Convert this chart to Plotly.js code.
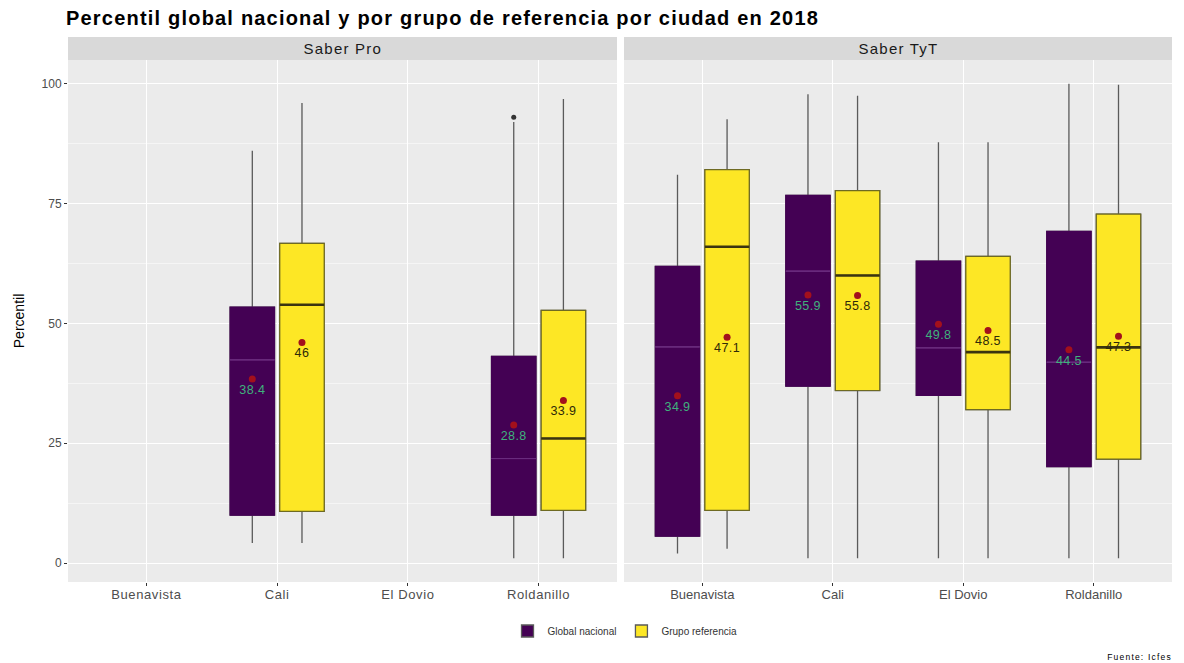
<!DOCTYPE html>
<html>
<head>
<meta charset="utf-8">
<script src="https://cdn.plot.ly/plotly-3.0.1.min.js"></script>
<style>
html,body{margin:0;padding:0;background:#fff;}
#chart{width:1184px;height:663px;}
#chart .gtitle{letter-spacing:1.2px;}
#chart .annotation-text{letter-spacing:1.2px;}
#chart .xtick text{letter-spacing:0.6px;}
#chart .textpoint text{letter-spacing:0.4px;}
</style>
</head>
<body>
<div id="chart"></div>
<script>
// ---------- data ----------
const cities = ['Buenavista', 'Cali', 'El Dovio', 'Roldanillo'];
const panels = ['Saber Pro', 'Saber TyT'];
const groups = ['Global nacional', 'Grupo referencia'];

// Saber Pro – Global nacional
const proGlobalQ1   = [null, 10.0, null, 10.0];
const proGlobalMed  = [null, 42.4, null, 21.8];
const proGlobalQ3   = [null, 53.4, null, 43.1];
const proGlobalLo   = [null, 4.2, null, 1.0];
const proGlobalHi   = [null, 86.0, null, 92.0];
const proGlobalMean = [null, 38.4, null, 28.8];
const proGlobalOut  = [null, null, null, 93.0];
// Saber Pro – Grupo referencia
const proRefQ1   = [null, 10.8, null, 11.0];
const proRefMed  = [null, 53.9, null, 26.0];
const proRefQ3   = [null, 66.7, null, 52.7];
const proRefLo   = [null, 4.2, null, 1.0];
const proRefHi   = [null, 96.0, null, 96.8];
const proRefMean = [null, 46.0, null, 33.9];
const proRefOut  = [null, null, null, null];
// Saber TyT – Global nacional
const tytGlobalQ1   = [5.6, 36.9, 35.0, 20.1];
const tytGlobalMed  = [45.1, 60.9, 44.9, 41.9];
const tytGlobalQ3   = [61.9, 76.7, 63.0, 69.2];
const tytGlobalLo   = [2.0, 1.0, 1.0, 1.0];
const tytGlobalHi   = [81.0, 97.8, 87.8, 100.0];
const tytGlobalMean = [34.9, 55.9, 49.8, 44.5];
const tytGlobalOut  = [null, null, null, null];
// Saber TyT – Grupo referencia
const tytRefQ1   = [11.0, 36.0, 32.0, 21.7];
const tytRefMed  = [66.0, 60.0, 44.0, 45.0];
const tytRefQ3   = [82.1, 77.7, 64.0, 72.8];
const tytRefLo   = [3.0, 1.0, 1.0, 1.0];
const tytRefHi   = [92.6, 97.5, 87.8, 99.8];
const tytRefMean = [47.1, 55.8, 48.5, 47.3];
const tytRefOut  = [null, null, null, null];

const yTicks = [0, 25, 50, 75, 100];

// ---------- styles ----------
const FONT = 'Liberation Sans, Arial, sans-serif';
const fills = ['#440154', '#FDE725'];
const outline = ['#440154', '#6e6a22'];
const medColor = ['#6a2c7e', '#3a3410'];
const medWidth = [1, 2.6];
const labelColor = ['#3fb27c', '#2f2a08'];
const whiskerColor = '#5a5a5a';
const meanColor = '#a3101c';
const dodge = 0.19, boxW = 0.34;

const series = [
  [ // Saber Pro
    {q1: proGlobalQ1, med: proGlobalMed, q3: proGlobalQ3, lo: proGlobalLo, hi: proGlobalHi, mean: proGlobalMean, out: proGlobalOut},
    {q1: proRefQ1, med: proRefMed, q3: proRefQ3, lo: proRefLo, hi: proRefHi, mean: proRefMean, out: proRefOut}
  ],
  [ // Saber TyT
    {q1: tytGlobalQ1, med: tytGlobalMed, q3: tytGlobalQ3, lo: tytGlobalLo, hi: tytGlobalHi, mean: tytGlobalMean, out: tytGlobalOut},
    {q1: tytRefQ1, med: tytRefMed, q3: tytRefQ3, lo: tytRefLo, hi: tytRefHi, mean: tytRefMean, out: tytRefOut}
  ]
];

const traces = [];
series.forEach((panel, p) => {
  const xa = p === 0 ? 'x' : 'x2';
  const ya = p === 0 ? 'y' : 'y2';
  panel.forEach((s, g) => {
    const idx = cities.map((c, i) => i).filter(i => s.q1[i] !== null);
    const xs = idx.map(i => i + (g === 0 ? -dodge : dodge));
    const pick = arr => idx.map(i => arr[i]);
    // whiskers (full box, grey line)
    traces.push({
      type: 'box', xaxis: xa, yaxis: ya, x: xs,
      q1: pick(s.q1), median: pick(s.med), q3: pick(s.q3),
      lowerfence: pick(s.lo), upperfence: pick(s.hi),
      width: boxW, whiskerwidth: 0, fillcolor: fills[g],
      line: {color: whiskerColor, width: 1.3},
      name: groups[g], legendgroup: groups[g], showlegend: p === 0,
      hoverinfo: 'skip'
    });
    // box body outline
    traces.push({
      type: 'box', xaxis: xa, yaxis: ya, x: xs,
      q1: pick(s.q1), median: pick(s.med), q3: pick(s.q3),
      lowerfence: pick(s.q1), upperfence: pick(s.q3),
      width: boxW, whiskerwidth: 0, fillcolor: fills[g],
      line: {color: outline[g], width: 1.2},
      name: groups[g], legendgroup: groups[g], showlegend: false,
      hoverinfo: 'skip'
    });
    // median line
    traces.push({
      type: 'box', xaxis: xa, yaxis: ya, x: xs,
      q1: pick(s.med), median: pick(s.med), q3: pick(s.med),
      lowerfence: pick(s.med), upperfence: pick(s.med),
      width: boxW, whiskerwidth: 0, fillcolor: 'rgba(0,0,0,0)',
      line: {color: medColor[g], width: medWidth[g]},
      name: groups[g], legendgroup: groups[g], showlegend: false,
      hoverinfo: 'skip'
    });
    // outliers
    const oi = cities.map((c, i) => i).filter(i => s.out[i] !== null);
    if (oi.length) {
      traces.push({
        type: 'scatter', mode: 'markers', xaxis: xa, yaxis: ya,
        x: oi.map(i => i + (g === 0 ? -dodge : dodge)), y: oi.map(i => s.out[i]),
        marker: {color: '#333333', size: 5},
        showlegend: false, hoverinfo: 'skip'
      });
    }
    // mean points with labels
    traces.push({
      type: 'scatter', mode: 'markers+text', xaxis: xa, yaxis: ya,
      x: xs, y: pick(s.mean), text: pick(s.mean).map(v => String(v)),
      textposition: 'bottom center',
      textfont: {family: FONT, size: 12.5, color: labelColor[g]},
      marker: {color: meanColor, size: 7},
      showlegend: false, hoverinfo: 'skip', cliponaxis: false
    });
  });
});

// ---------- layout ----------
const yRange = [-3.95, 104.95];
const stripTop = 1, stripBottom = 1 - 23 / 545;
const xDom = [[0, 549 / 1104], [556 / 1104, 1]];
const xAxisBase = {
  type: 'linear', range: [-0.6, 3.6], tickvals: [0, 1, 2, 3], ticktext: cities,
  showgrid: true, gridcolor: '#ffffff', gridwidth: 1.1, zeroline: false,
  ticks: 'outside', ticklen: 3, tickcolor: '#333333', tickwidth: 1,
  ticklabelstandoff: -3,
  tickfont: {family: FONT, size: 13, color: '#4d4d4d'},
  showline: false, fixedrange: true
};
const yAxisBase = {
  range: yRange, domain: [0, stripBottom], tickvals: yTicks,
  showgrid: true, gridcolor: '#ffffff', gridwidth: 1.1, zeroline: false,
  minor: {tick0: 0, dtick: 12.5, showgrid: true, gridcolor: '#ffffff', gridwidth: 0.5, ticks: ''},
  tickfont: {family: FONT, size: 12, color: '#4d4d4d'},
  showline: false, fixedrange: true
};

const shapes = [];
const annotations = [];
xDom.forEach((d, p) => {
  shapes.push({type: 'rect', xref: 'paper', yref: 'paper', x0: d[0], x1: d[1], y0: 0, y1: stripBottom,
    fillcolor: '#ebebeb', line: {width: 0}, layer: 'below'});
  shapes.push({type: 'rect', xref: 'paper', yref: 'paper', x0: d[0], x1: d[1], y0: stripBottom, y1: stripTop,
    fillcolor: '#d9d9d9', line: {width: 0}, layer: 'below'});
  annotations.push({xref: 'paper', yref: 'paper', x: (d[0] + d[1]) / 2, y: (stripBottom + stripTop) / 2,
    text: panels[p], showarrow: false, xanchor: 'center', yanchor: 'middle',
    font: {family: FONT, size: 15, color: '#1a1a1a'}});
});
annotations.push({xref: 'paper', yref: 'paper', x: (1166 - 68) / 1104, y: -0.138, xanchor: 'right', yanchor: 'middle',
  text: 'Fuente: Icfes', showarrow: false,
  font: {family: FONT, size: 8.5, color: '#000000'}});

const layout = {
  width: 1184, height: 663,
  margin: {l: 68, r: 12, t: 37, b: 81},
  paper_bgcolor: '#ffffff', plot_bgcolor: '#ffffff',
  title: {
    text: '<b>Percentil global nacional y por grupo de referencia por ciudad en 2018</b>',
    x: 66 / 1184, xanchor: 'left', xref: 'container',
    y: 1 - 18 / 663, yanchor: 'middle', yref: 'container',
    font: {family: FONT, size: 20, color: '#000000'}
  },
  xaxis: Object.assign({}, xAxisBase, {domain: xDom[0], anchor: 'y'}),
  xaxis2: Object.assign({}, xAxisBase, {domain: xDom[1], anchor: 'y2'}),
  yaxis: Object.assign({}, yAxisBase, {anchor: 'x', ticks: 'outside', ticklen: 3, tickcolor: '#333333',
    title: {text: 'Percentil', standoff: 13, font: {family: FONT, size: 14, color: '#000000'}}}),
  yaxis2: Object.assign({}, yAxisBase, {anchor: 'x2', matches: 'y', showticklabels: false, ticks: ''}),
  boxmode: 'overlay',
  showlegend: true,
  legend: {
    orientation: 'h', x: (625 - 68) / 1104, xanchor: 'center', y: (582 - 631) / 545, yanchor: 'middle',
    font: {family: FONT, size: 10, color: '#333333'},
    bgcolor: 'rgba(0,0,0,0)', itemwidth: 30, tracegroupgap: 0
  },
  shapes: shapes,
  annotations: annotations
};

Plotly.newPlot('chart', traces, layout, {displayModeBar: false, staticPlot: true});
</script>
</body>
</html>
